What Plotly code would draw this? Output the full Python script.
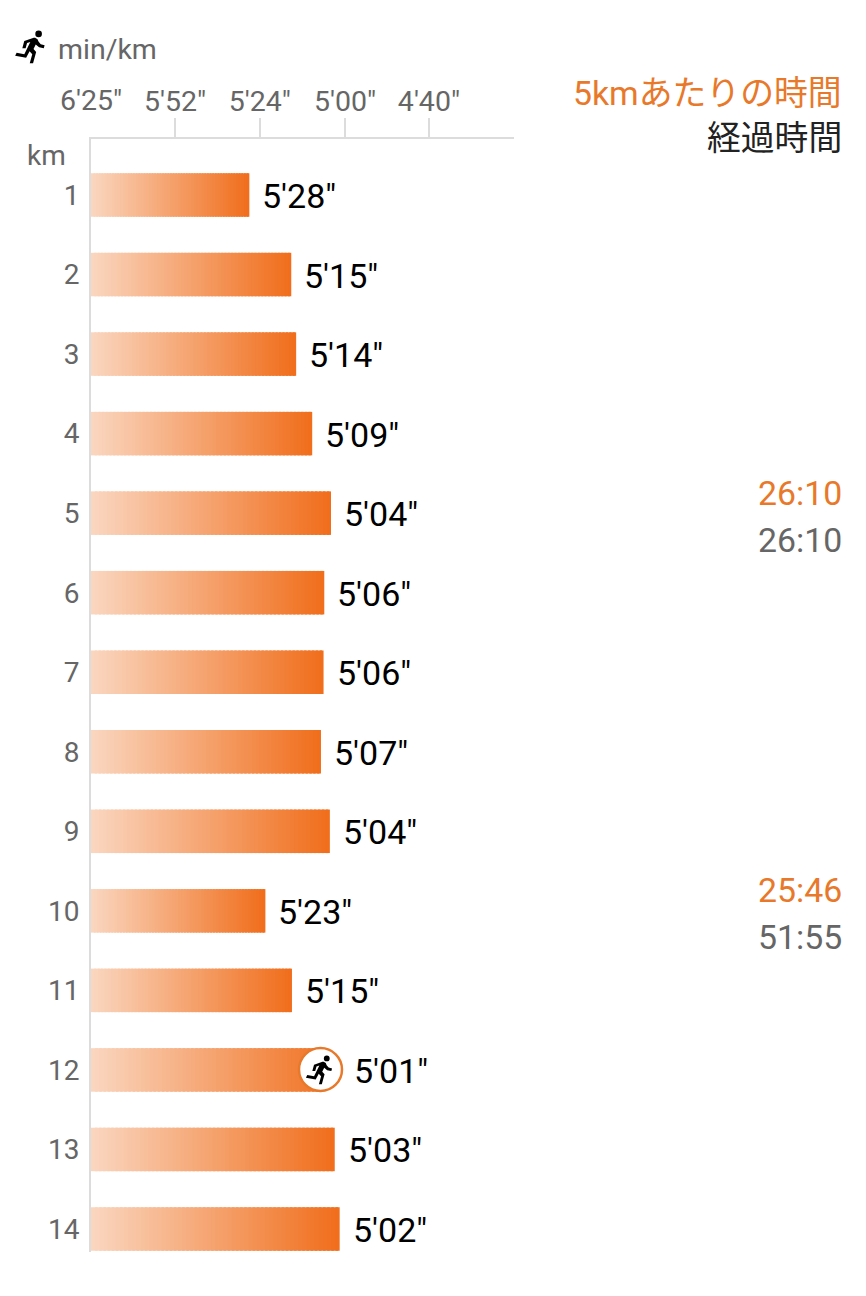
import plotly.graph_objects as go

km = list(range(1, 15))
pace_labels = ["5'28\"", "5'15\"", "5'14\"", "5'09\"", "5'04\"", "5'06\"", "5'06\"", "5'07\"", "5'04\"", "5'23\"", "5'15\"", "5'01\"", "5'03\"", "5'02\""]
# bar lengths expressed as seconds per km
pace_seconds = [327.2, 314.7, 313.3, 308.8, 303.7, 305.5, 305.7, 306.4, 304.0, 322.3, 314.5, 301.0, 302.7, 301.4]
tick_seconds = [385, 352, 324, 300, 279.6]
tick_labels = ["6'25\"", "5'52\"", "5'24\"", "5'00\"", "4'40\""]
split_rows = [5, 10]
split_times = ["26:10", "25:46"]
elapsed_times = ["26:10", "51:55"]

W, H = 866, 1296
ORANGE = "#e8792b"
GRAY = "#666666"
GRID = "#dcdcdc"
FONT = "Roboto, 'Noto Sans CJK JP', sans-serif"
LIGHT = (250, 214, 191)
DARK = (240, 110, 28)
STEPS = 60
RUNNER = [(9.89, 19.38), (10.89, 14.98), (12.99, 16.98), (12.99, 22.98), (14.99, 22.98), (14.99, 15.48),
          (12.89, 13.48), (13.49, 10.48), (16, 12.4), (18.99, 12.98), (18.99, 10.98), (16.5, 10.4), (14.69, 8.58),
          (13.69, 6.98), (11.99, 5.98), (11.19, 6.08), (5.99, 8.28), (5.99, 12.98), (7.99, 12.98),
          (7.99, 9.58), (9.79, 8.88), (8.19, 16.98), (3.29, 15.98), (2.89, 17.98)]
RUNNER_HEAD = (13.49, 3.48, 2.2)

speed = [1 / p for p in pace_seconds]
s0 = 1 / tick_seconds[0]
s3 = 1 / tick_seconds[3]
# pixel 91 = 6'25", pixel 345 = 5'00"; plot area runs to pixel 514
x_end = s0 + (s3 - s0) * (514 - 91) / (345 - 91)
y_top = 1 - (195 - 139) / 79.54
y_bot = 14 + (1252 - 1229) / 79.54

fig = go.Figure()
# each bar is a run of short overlapping slices, light to dark, forming the gradient
for k in range(STEPS):
    t = k / (STEPS - 1)
    col = tuple(round(a + (b - a) * t) for a, b in zip(LIGHT, DARK))
    start = k / STEPS
    stop = min(1, (k + 1.6) / STEPS)
    fig.add_trace(go.Bar(
        y=km, x=[(s - s0) * (stop - start) for s in speed], base=[s0 + (s - s0) * start for s in speed],
        orientation="h", width=43.5 / 79.54, marker=dict(color="rgb(%d,%d,%d)" % col, line_width=0),
        showlegend=False, hoverinfo="skip"))


def px(x):
    return x / W


def py(y):
    return 1 - y / H


def runner(cx, cy, s):
    """Running figure icon, leaning forward, in paper coordinates around a centre."""
    def P(x, y):
        return (cx + (x - 11 + 0.25 * (12 - y)) * s * 1.1, cy + (y - 12.2) * s)
    pts = [P(x, y) for x, y in RUNNER]
    path = "M" + " L".join("%.5f %.5f" % (px(a), py(b)) for a, b in pts) + " Z"
    fig.add_shape(type="path", xref="paper", yref="paper", path=path, fillcolor="black", line_width=0)
    hx, hy = P(RUNNER_HEAD[0], RUNNER_HEAD[1])
    r = RUNNER_HEAD[2] * s
    fig.add_shape(type="circle", xref="paper", yref="paper", x0=px(hx - r), x1=px(hx + r),
                  y0=py(hy + r), y1=py(hy - r), fillcolor="black", line_width=0)


def note(text, x, y, size, color, anchor="left"):
    fig.add_annotation(text=text, x=px(x), y=py(y), xref="paper", yref="paper", xanchor=anchor,
                       yanchor="middle", showarrow=False, font=dict(size=size, color=color, family=FONT))


for k, s, lab in zip(km, speed, pace_labels):
    fig.add_annotation(text=lab, x=s, y=k, xref="x", yref="y", xanchor="left", yanchor="middle",
                       xshift=11, yshift=-1, showarrow=False, font=dict(size=34, color="black", family=FONT))

# the first tick has a label but no tick mark
fig.add_annotation(text=tick_labels[0], x=s0, y=py(100), xref="x", yref="paper", xanchor="center",
                   yanchor="middle", showarrow=False, font=dict(size=28.5, color=GRAY, family=FONT))
note("min/km", 56, 49, 28.5, GRAY)
note("km", 25, 155, 28, GRAY)
note("5kmあたりの時間", 844, 94, 33.8, ORANGE, "right")
note("経過時間", 844, 138, 33.8, "#222222", "right")

for r, a, b in zip(split_rows, split_times, elapsed_times):
    fig.add_annotation(text=a, x=px(844), y=r, xref="paper", yref="y", xanchor="right", yanchor="middle",
                       yshift=20, showarrow=False, font=dict(size=33.8, color=ORANGE, family=FONT))
    fig.add_annotation(text=b, x=px(844), y=r, xref="paper", yref="y", xanchor="right", yanchor="middle",
                       yshift=-27, showarrow=False, font=dict(size=33.8, color=GRAY, family=FONT))

# rounded end of the bar on the fastest row: hide the corners, then the ring
fig.add_shape(type="rect", xref="paper", yref="paper", x0=px(320), x1=px(347), y0=py(1046), y1=py(1093),
              fillcolor="white", line_width=0)
fig.add_shape(type="circle", xref="paper", yref="paper", x0=px(299), x1=px(342), y0=py(1048), y1=py(1091),
              fillcolor="white", line=dict(color=ORANGE, width=2.5))
runner(320, 1070, 1.33)
runner(31, 47, 1.5)

fig.update_layout(
    width=W, height=H, margin=dict(l=0, r=0, t=0, b=0, pad=0), autosize=False,
    paper_bgcolor="white", plot_bgcolor="white", barmode="overlay", showlegend=False,
    xaxis=dict(domain=[px(91), px(514)], range=[s0, x_end], side="top", anchor="y", automargin=False,
               tickmode="array", tickvals=[1 / t for t in tick_seconds[1:]], ticktext=tick_labels[1:],
               ticks="outside", ticklen=19, tickcolor=GRID, tickwidth=2, ticklabelstandoff=-4,
               tickfont=dict(size=28.5, color=GRAY, family=FONT),
               showgrid=False, zeroline=False, showline=True, linecolor=GRID, linewidth=2),
    yaxis=dict(domain=[py(1252), py(139)], range=[y_bot, y_top], anchor="x", automargin=False,
               tickmode="array", tickvals=km, ticktext=[str(k) for k in km],
               ticks="", tickfont=dict(size=28, color=GRAY, family=FONT), ticklabelstandoff=4,
               showgrid=False, zeroline=False, showline=True, linecolor=GRID, linewidth=2),
)
fig.write_html("out.html", config={"displayModeBar": False}, post_script="document.body.style.margin='0';")
